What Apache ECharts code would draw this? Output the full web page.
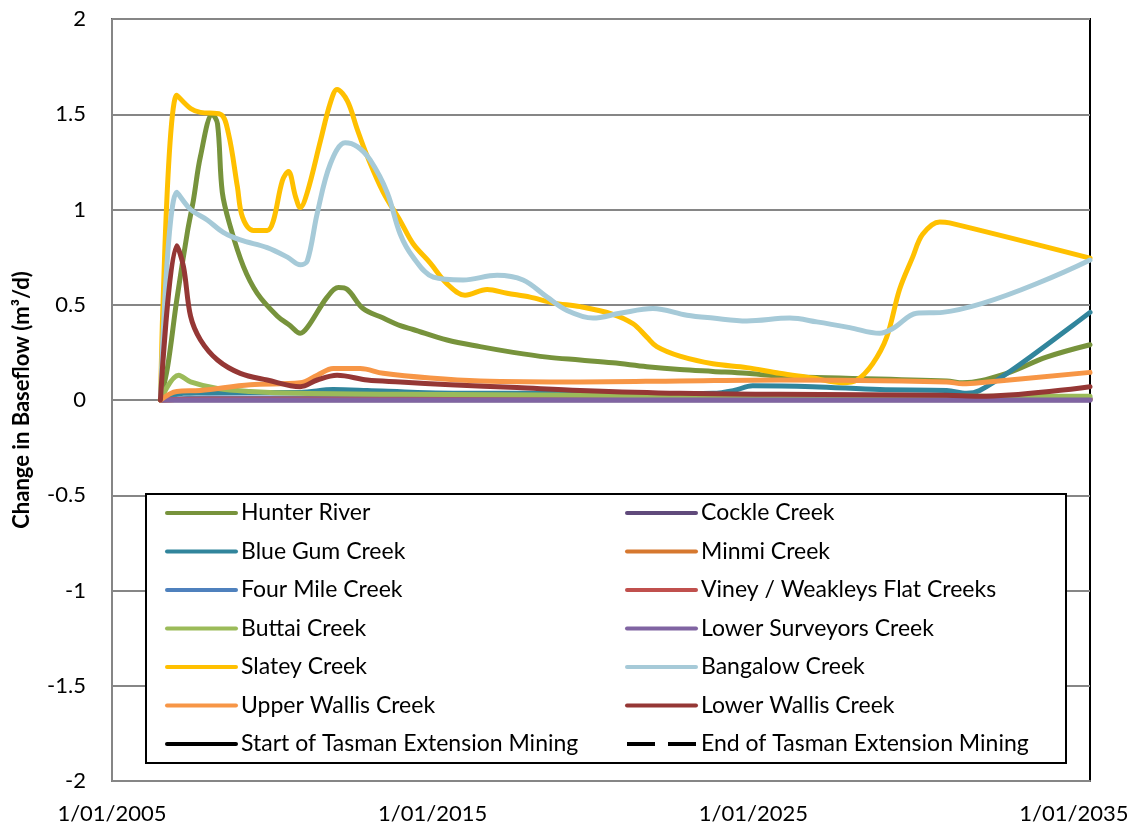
<!DOCTYPE html>
<html>
<head>
<meta charset="utf-8">
<script src="https://cdn.jsdelivr.net/npm/echarts@6/dist/echarts.min.js"></script>
<style>
html,body{margin:0;padding:0;background:#fff;}
#chart{width:1135px;height:828px;}
</style>
</head>
<body>
<div id="chart"></div>
<script>
// ---- Data (year as decimal, change in baseflow m3/d) ----
const BASE_YEAR = 2005;
const xTickYears = [2005, 2015, 2025, 2035];
const yTicks = [-2, -1.5, -1, -0.5, 0, 0.5, 1, 1.5, 2];

const hunterRiver = [[2006.51,0],[2006.73,0.17],[2007.02,0.525],[2007.35,0.88],[2007.54,1.05],[2007.76,1.28],[2008.13,1.50],[2008.29,1.45],[2008.44,1.09],[2008.69,0.91],[2009.10,0.70],[2009.53,0.56],[2010.16,0.44],[2010.56,0.39],[2010.87,0.35],[2011.09,0.38],[2011.71,0.54],[2012.06,0.59],[2012.34,0.58],[2012.83,0.48],[2013.46,0.43],[2013.99,0.39],[2014.39,0.37],[2015.45,0.315],[2016.48,0.28],[2017.51,0.25],[2018.57,0.225],[2019.60,0.21],[2020.62,0.195],[2021.68,0.175],[2022.71,0.16],[2023.74,0.15],[2024.80,0.14],[2025.82,0.125],[2031.03,0.10],[2031.53,0.09],[2032.90,0.14],[2034.14,0.225],[2035.50,0.29]];
const cockleCreek = [[2006.51,0],[2010,0],[2020,0],[2030,0],[2035.50,0]];
const blueGumCreek = [[2006.51,0],[2007.23,0.035],[2009.31,0.04],[2010.87,0.04],[2011.90,0.055],[2012.96,0.05],[2014.52,0.04],[2016.57,0.035],[2018.66,0.035],[2020.22,0.03],[2023.74,0.035],[2024.40,0.05],[2024.98,0.075],[2026.85,0.07],[2028.94,0.055],[2031.03,0.05],[2031.65,0.035],[2032.06,0.05],[2033.09,0.16],[2034.95,0.39],[2035.50,0.46]];
const minmiCreek = [[2006.51,0],[2008,0.005],[2020,0.005],[2035.50,0.005]];
const fourMileCreek = [[2006.51,0],[2008,0.01],[2020,0.01],[2035.50,0.01]];
const vineyWeakleysFlatCreeks = [[2006.51,0],[2008,0.005],[2020,0.005],[2035.50,0.005]];
const buttaiCreek = [[2006.51,0],[2007.08,0.13],[2007.45,0.095],[2008.29,0.06],[2009.31,0.045],[2010.87,0.035],[2014.00,0.03],[2020.00,0.025],[2025.00,0.02],[2035.50,0.02]];
const lowerSurveyorsCreek = [[2006.51,0],[2010,0],[2020,0],[2030,0],[2035.50,0]];
const slateyCreek = [[2006.51,0],[2007.02,1.60],[2007.45,1.53],[2007.76,1.51],[2008.38,1.50],[2008.63,1.40],[2008.91,1.12],[2009.07,0.96],[2009.41,0.89],[2009.84,0.89],[2010.03,0.94],[2010.31,1.15],[2010.50,1.20],[2010.72,1.07],[2010.87,1.01],[2011.09,1.09],[2011.50,1.36],[2011.81,1.56],[2012.02,1.63],[2012.34,1.57],[2012.65,1.42],[2012.96,1.28],[2013.46,1.09],[2013.99,0.94],[2014.39,0.82],[2014.92,0.72],[2015.45,0.61],[2016.01,0.55],[2016.70,0.58],[2017.32,0.56],[2018.04,0.54],[2018.75,0.51],[2019.60,0.49],[2020.62,0.45],[2021.25,0.40],[2021.68,0.33],[2021.99,0.28],[2022.71,0.23],[2023.74,0.19],[2024.80,0.17],[2025.82,0.14],[2026.85,0.115],[2027.79,0.09],[2028.23,0.105],[2028.72,0.19],[2029.16,0.33],[2029.56,0.58],[2029.97,0.75],[2030.28,0.87],[2030.81,0.935],[2031.12,0.93],[2035.50,0.745]];
const bangalowCreek = [[2006.51,0],[2007.02,1.09],[2007.45,1.00],[2007.97,0.945],[2008.47,0.88],[2009.00,0.84],[2009.84,0.80],[2010.47,0.75],[2010.87,0.71],[2011.09,0.73],[2011.40,0.98],[2011.81,1.24],[2012.27,1.35],[2012.65,1.33],[2013.05,1.26],[2013.58,1.09],[2013.99,0.87],[2014.39,0.75],[2015.02,0.645],[2015.95,0.63],[2017.01,0.655],[2017.82,0.63],[2018.57,0.54],[2019.19,0.47],[2020.00,0.43],[2020.84,0.455],[2021.87,0.48],[2022.93,0.445],[2023.74,0.43],[2024.80,0.415],[2026.14,0.43],[2026.98,0.41],[2028.01,0.38],[2028.94,0.35],[2029.35,0.375],[2030.09,0.455],[2030.90,0.46],[2035.50,0.735]];
const upperWallisCreek = [[2006.51,0],[2007.02,0.045],[2007.76,0.05],[2009.31,0.08],[2010.87,0.09],[2011.40,0.13],[2011.90,0.165],[2012.74,0.165],[2013.46,0.14],[2014.92,0.115],[2016.48,0.10],[2019.60,0.095],[2022.71,0.10],[2025.82,0.105],[2031.03,0.095],[2031.53,0.085],[2032.06,0.09],[2035.50,0.145]];
const lowerWallisCreek = [[2006.51,0],[2007.02,0.81],[2007.23,0.70],[2007.45,0.44],[2007.76,0.315],[2008.29,0.21],[2009.00,0.14],[2009.84,0.105],[2010.87,0.07],[2011.40,0.105],[2012.02,0.13],[2012.96,0.105],[2013.99,0.095],[2015.55,0.08],[2017.63,0.065],[2019.60,0.05],[2022.71,0.035],[2025.82,0.03],[2031.03,0.025],[2032.06,0.02],[2035.50,0.07]];
const startMining = [];
const endMining = [];

const seriesNames = ['Hunter River','Cockle Creek','Blue Gum Creek','Minmi Creek','Four Mile Creek','Viney / Weakleys Flat Creeks','Buttai Creek','Lower Surveyors Creek','Slatey Creek','Bangalow Creek','Upper Wallis Creek','Lower Wallis Creek','Start of Tasman Extension Mining','End of Tasman Extension Mining'];
const seriesValues = [hunterRiver,cockleCreek,blueGumCreek,minmiCreek,fourMileCreek,vineyWeakleysFlatCreeks,buttaiCreek,lowerSurveyorsCreek,slateyCreek,bangalowCreek,upperWallisCreek,lowerWallisCreek,startMining,endMining];
const seriesColors = ['#77933C','#604A7B','#31859C','#D6782F','#4F81BD','#C0504D','#9BBB59','#8064A2','#FFC000','#A6CAD8','#F79646','#953735','#000000','#000000'];
const dashedSeries = ['End of Tasman Extension Mining'];

const FONT = 'Lato';
const chart = echarts.init(document.getElementById('chart'), null, {renderer: 'canvas'});

const series = seriesNames.map((name, i) => ({
  name: name,
  type: 'line',
  smooth: 0.35,
  symbol: 'none',
  data: seriesValues[i].map(p => [p[0] - BASE_YEAR, p[1]]),
  lineStyle: {
    color: seriesColors[i],
    width: 5,
    cap: 'round',
    join: 'round',
    type: dashedSeries.indexOf(name) >= 0 ? [28, 14] : 'solid'
  },
  itemStyle: {color: seriesColors[i]},
  emphasis: {disabled: true}
}));

function legendItems(names) {
  return names.map(n => dashedSeries.indexOf(n) >= 0
    ? {name: n, lineStyle: {type: [28, 13], cap: 'butt', width: 4}}
    : {name: n});
}
const legendLeft = legendItems(seriesNames.filter((_, i) => i % 2 === 0));
const legendRight = legendItems(seriesNames.filter((_, i) => i % 2 === 1));

const legendCommon = {
  orient: 'vertical',
  top: 501,
  padding: 0,
  itemWidth: 69,
  itemHeight: 14,
  itemGap: 14.5,
  selectedMode: false,
  z: 10,
  lineStyle: {width: 4, cap: 'round'},
  itemStyle: {opacity: 0},
  textStyle: {fontFamily: FONT, fontSize: 23, color: '#000', lineHeight: 24}
};

chart.setOption({
  animation: false,
  backgroundColor: '#fff',
  grid: {left: 112, right: 45, top: 19, bottom: 47, show: true, borderColor: '#000', borderWidth: 2, containLabel: false},
  xAxis: {
    type: 'value', min: 0, max: 30.5, interval: 10,
    axisLine: {onZero: false, lineStyle: {color: '#868686', width: 2}},
    axisTick: {show: false},
    splitLine: {show: false},
    axisLabel: {
      formatter: v => xTickYears.indexOf(BASE_YEAR + v) >= 0 ? '1/01/' + (BASE_YEAR + v) : '',
      showMaxLabel: false,
      fontFamily: FONT, fontSize: 22, color: '#000', margin: 22
    }
  },
  yAxis: {
    type: 'value', min: yTicks[0], max: yTicks[yTicks.length - 1], interval: 0.5,
    axisLine: {show: true, lineStyle: {color: '#868686', width: 2}},
    axisTick: {show: false},
    splitLine: {lineStyle: {color: '#868686', width: 2}},
    axisLabel: {fontFamily: FONT, fontSize: 22, color: '#000', margin: 26},
    name: 'Change in Baseflow (m³/d)',
    nameLocation: 'middle',
    nameGap: 79,
    nameTextStyle: {fontFamily: FONT, fontWeight: 'bold', fontSize: 22, color: '#000'}
  },
  legend: [
    Object.assign({}, legendCommon, {data: legendLeft, left: 165}),
    Object.assign({}, legendCommon, {data: legendRight, left: 625})
  ],
  graphic: [{
    type: 'rect', z: 5,
    shape: {x: 146, y: 494, width: 920, height: 269},
    style: {fill: '#fff', stroke: '#000', lineWidth: 2}
  }],
  series: series
});
</script>
</body>
</html>
